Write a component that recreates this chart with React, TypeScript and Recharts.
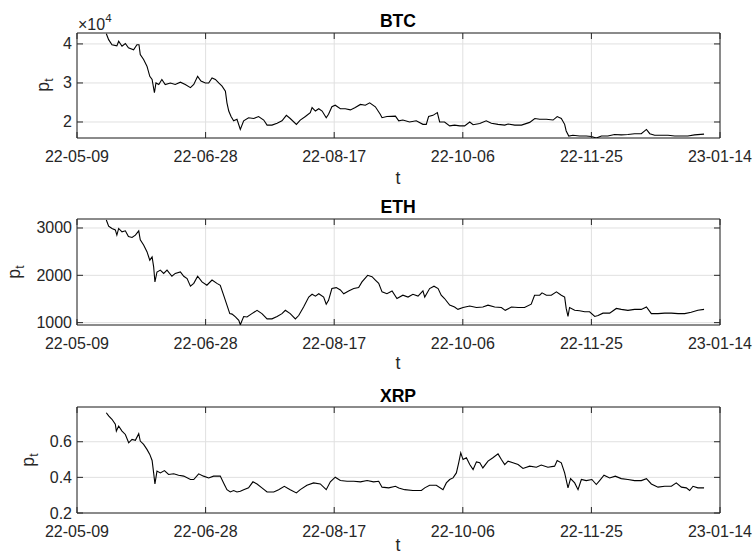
import React from "react";
import { LineChart, Line, XAxis, YAxis, CartesianGrid, ReferenceArea } from "recharts";

// x axis: days since 22-05-09, ticks every 50 days
const tickDays = [0, 50, 100, 150, 200, 250];
const tickLabels = ["22-05-09", "22-06-28", "22-08-17", "22-10-06", "22-11-25", "23-01-14"];

const btcDays = [
  11.4, 12.3, 13.6, 15.5, 16.2, 17.5, 18.8, 20.0, 22.0, 23.3, 24.1, 24.6, 25.9, 27.2, 28.3, 29.2, 30.1, 30.7,
  31.8, 33.0, 34.3, 36.3, 38.2, 40.2, 42.1, 44.1, 45.4, 46.9, 48.2, 49.9, 51.2, 52.5, 53.8, 55.1, 56.4, 57.7,
  58.3, 59.0, 59.9, 60.9, 62.2, 63.5, 64.8, 66.7, 68.7, 70.6, 72.6, 73.9, 75.8, 77.8, 79.7, 81.4, 82.9, 85.3,
  86.8, 88.8, 90.7, 91.4, 92.7, 94.0, 95.3, 96.9, 97.8, 99.1, 100.4, 102.4, 104.3, 106.3, 108.2, 110.2, 112.1,
  113.8, 116.0, 117.9, 118.6, 120.5, 123.8, 125.1, 126.7, 129.3, 131.9, 134.5, 135.8, 136.7, 138.4, 140.1,
  141.0, 142.9, 144.9, 146.8, 148.8, 150.7, 152.7, 154.0, 156.6, 159.1, 161.1, 163.7, 166.3, 167.6, 170.2,
  172.8, 176.0, 178.0, 179.9, 182.5, 185.1, 186.7, 188.3, 189.6, 190.2, 191.2, 192.8, 195.4, 198.0, 200.0,
  201.9, 203.9, 206.4, 209.0, 211.6, 214.2, 216.8, 219.4, 221.4, 222.7, 224.6, 227.2, 229.8, 232.4, 235.0,
  237.5, 240.1, 243.8,
];
const btcPrices = [
  42600, 41100, 39800, 39500, 40700, 39400, 40100, 39000, 38500, 39800, 39800, 37300, 36000, 34300, 31700, 30900,
  27500, 30000, 29600, 30900, 29600, 30000, 29600, 30200, 29600, 28800, 29600, 31700, 30500, 30000, 30000, 31300,
  30900, 30000, 29200, 27900, 24900, 22800, 21400, 20300, 20700, 18100, 20300, 21100, 20900, 21400, 20500, 19200,
  19200, 19700, 20300, 21700, 20900, 19400, 20500, 21400, 22400, 23700, 22800, 23400, 22800, 21100, 22000, 23900,
  24300, 23400, 23400, 23100, 23700, 24500, 24300, 24900, 23900, 22000, 21100, 21400, 21500, 20300, 20500, 20000,
  20300, 19400, 19400, 21400, 21700, 22400, 20000, 20000, 19000, 19200, 19000, 19000, 20000, 19300, 19600, 20300,
  19700, 19400, 19200, 19500, 19200, 19200, 19900, 20900, 20700, 20700, 20500, 21400, 20900, 19400, 17700, 16400,
  16600, 16400, 16400, 16300, 15900, 16400, 16400, 16800, 16700, 16800, 17000, 17000, 18100, 17000, 16600, 16600,
  16600, 16400, 16400, 16400, 16700, 16900,
];

const ethDays = [
  11.4, 12.3, 13.6, 14.9, 15.5, 16.2, 17.5, 18.8, 20.0, 21.4, 22.7, 24.0, 24.6, 25.9, 27.2, 28.3, 29.2, 29.8,
  30.3, 31.1, 32.4, 33.7, 35.0, 36.9, 38.2, 40.2, 41.5, 42.8, 44.1, 45.4, 46.9, 48.6, 50.5, 52.5, 54.4, 55.7,
  57.0, 58.3, 59.4, 60.3, 61.6, 62.9, 63.5, 64.8, 66.1, 68.0, 70.0, 71.9, 73.9, 75.8, 77.8, 79.7, 81.0, 82.9,
  84.9, 86.2, 88.1, 90.1, 91.4, 92.7, 94.0, 95.9, 96.9, 97.8, 99.1, 100.8, 102.4, 103.7, 105.6, 107.6, 109.5,
  110.8, 113.0, 114.7, 116.0, 117.3, 118.6, 120.5, 122.5, 124.4, 126.7, 128.7, 130.6, 132.6, 134.5, 135.2,
  137.1, 138.8, 140.4, 141.6, 142.9, 144.9, 146.8, 148.1, 150.1, 152.7, 155.3, 157.8, 159.8, 162.4, 165.0,
  166.5, 168.9, 171.5, 174.0, 176.6, 177.9, 179.9, 180.8, 182.5, 184.4, 186.4, 188.3, 189.6, 190.2, 190.9,
  191.5, 193.5, 195.4, 197.4, 199.3, 201.3, 202.6, 204.5, 207.1, 209.7, 211.6, 214.2, 216.8, 219.4, 221.4,
  223.3, 225.9, 228.5, 231.1, 233.7, 236.3, 238.8, 241.4, 243.8,
];
const ethPrices = [
  3170, 3040, 2990, 2960, 2850, 2990, 2920, 2940, 2820, 2800, 2850, 2940, 2750, 2640, 2500, 2320, 2390, 2180,
  1860, 2070, 2110, 2040, 2110, 1980, 2040, 2070, 1980, 1930, 1770, 1830, 1980, 1860, 1790, 1900, 1830, 1790,
  1580, 1370, 1190, 1180, 1120, 1050, 955, 1130, 1120, 1190, 1260, 1190, 1080, 1080, 1130, 1190, 1260, 1190,
  1080, 1150, 1330, 1540, 1600, 1560, 1610, 1540, 1390, 1470, 1720, 1740, 1690, 1610, 1670, 1720, 1740,
  1860, 2000, 1970, 1900, 1830, 1650, 1610, 1670, 1510, 1580, 1540, 1600, 1560, 1670, 1540,
  1720, 1770, 1720, 1580, 1510, 1370, 1330, 1280, 1320, 1350, 1320, 1330, 1370, 1330, 1320,
  1260, 1330, 1320, 1320, 1390, 1580, 1580, 1630, 1580, 1580, 1650, 1580, 1540, 1300, 1130,
  1320, 1260, 1250, 1230, 1230, 1130, 1150, 1200, 1200, 1300, 1280, 1260, 1280, 1280, 1330,
  1190, 1190, 1200, 1200, 1190, 1190, 1220, 1260, 1280,
];

const xrpDays = [
  11.4, 12.3, 13.6, 14.9, 15.3, 16.2, 17.5, 18.8, 20.1, 21.4, 22.7, 24.0, 24.6, 25.9, 27.2, 28.3, 29.2, 29.8,
  30.3, 31.1, 32.4, 34.0, 35.6, 37.6, 39.5, 41.5, 44.1, 45.4, 47.3, 49.2, 51.2, 53.1, 55.7, 57.0, 58.3, 59.6,
  60.9, 62.2, 63.5, 64.8, 66.7, 68.4, 70.0, 71.9, 73.9, 76.5, 78.4, 80.6, 82.9, 85.3, 86.8, 89.4, 92.0, 94.6,
  96.9, 98.5, 100.4, 102.4, 105.0, 107.6, 110.2, 112.8, 115.3, 117.3, 118.6, 121.2, 123.8, 125.1, 127.4, 130.6,
  133.9, 135.2, 137.1, 139.7, 142.3, 143.6, 144.9, 146.2, 147.5, 148.4, 149.2, 150.1, 151.4, 152.7, 154.0,
  155.3, 156.6, 157.8, 159.8, 161.7, 163.7, 165.0, 166.3, 167.6, 169.5, 171.5, 173.4, 176.0, 178.6, 180.5,
  183.1, 185.7, 186.7, 188.3, 189.6, 190.9, 191.9, 193.5, 194.8, 196.1, 198.0, 200.2, 201.9, 203.2, 204.9,
  207.1, 209.3, 211.6, 214.2, 216.8, 219.4, 221.4, 223.3, 225.9, 228.5, 231.1, 233.0, 235.0, 236.9, 238.2,
  239.5, 241.4, 243.8,
];
const xrpPrices = [
  0.763, 0.745, 0.726, 0.698, 0.66, 0.688, 0.66, 0.641, 0.594, 0.613, 0.608, 0.645, 0.604, 0.585, 0.557, 0.529,
  0.495, 0.425, 0.363, 0.435, 0.425, 0.438, 0.416, 0.42, 0.412, 0.407, 0.388, 0.388, 0.42, 0.407, 0.397, 0.407,
  0.407, 0.369, 0.331, 0.318, 0.326, 0.318, 0.322, 0.331, 0.341, 0.375, 0.363, 0.341, 0.318, 0.318, 0.331, 0.35,
  0.331, 0.313, 0.331, 0.356, 0.369, 0.363, 0.331, 0.375, 0.401, 0.382, 0.378, 0.378, 0.375, 0.382, 0.375, 0.378,
  0.345, 0.341, 0.35, 0.34, 0.331, 0.326, 0.326, 0.341, 0.356, 0.356, 0.331, 0.369, 0.388, 0.397, 0.425, 0.482,
  0.538, 0.5, 0.51, 0.472, 0.444, 0.487, 0.482, 0.453, 0.491, 0.51, 0.532, 0.5, 0.472, 0.491, 0.482, 0.472,
  0.45, 0.463, 0.457, 0.469, 0.457, 0.463, 0.495, 0.482, 0.425, 0.341, 0.393, 0.369, 0.331, 0.388, 0.382, 0.388,
  0.36, 0.382, 0.412, 0.397, 0.407, 0.393, 0.388, 0.382, 0.382, 0.393, 0.363, 0.345, 0.35, 0.35, 0.369, 0.345,
  0.341, 0.326, 0.35, 0.341, 0.341,
];

const FONT = '"Liberation Sans", Arial, Helvetica, sans-serif';
const INK = "#262626";
const PLOT_W = 643;

const XTick = ({ x, y, payload, plotH }: any) => {
  const i = tickDays.indexOf(payload.value);
  return (
    <g>
      <line x1={x} x2={x} y1={y} y2={y - 6} stroke={INK} />
      <line x1={x} x2={x} y1={y - plotH} y2={y - plotH + 6} stroke={INK} />
      <text x={x} y={y + 24} textAnchor="middle" fontSize={16} fill={INK} fontFamily={FONT}>
        {tickLabels[i]}
      </text>
    </g>
  );
};

const YTick = ({ x, y, payload, fmt }: any) => (
  <g>
    <line x1={x} x2={x + 6} y1={y} y2={y} stroke={INK} />
    <line x1={x + PLOT_W} x2={x + PLOT_W - 6} y1={y} y2={y} stroke={INK} />
    <text x={x - 5} y={y + 5.5} textAnchor="end" fontSize={16} fill={INK} fontFamily={FONT}>
      {fmt(payload.value)}
    </text>
  </g>
);

type PanelProps = {
  days: number[];
  prices: number[];
  domain: [number, number];
  ticks: number[];
  fmt: (v: number) => string;
  top: number;
  plotH: number;
};

const Panel = ({ days, prices, domain, ticks, fmt, top, plotH }: PanelProps) => {
  const data = days.map((d, i) => ({ d, p: prices[i] }));
  return (
    <div style={{ position: "absolute", left: 0, top: top - 10 }}>
      <LineChart width={756} height={plotH + 40} data={data} margin={{ top: 10, right: 36, bottom: 0, left: 37 }}>
        <CartesianGrid stroke="#e0e0e0" />
        <XAxis
          type="number"
          dataKey="d"
          domain={[0, 250]}
          ticks={tickDays}
          interval={0}
          height={30}
          tickSize={0}
          tickMargin={0}
          axisLine={false}
          allowDataOverflow
          tick={(props: any) => <XTick {...props} plotH={plotH} />}
        />
        <YAxis
          type="number"
          domain={domain}
          ticks={ticks}
          interval={0}
          width={40}
          tickSize={0}
          tickMargin={0}
          axisLine={false}
          allowDataOverflow
          tick={(props: any) => <YTick {...props} fmt={fmt} />}
        />
        <Line type="linear" dataKey="p" stroke="#000" strokeWidth={1.1} dot={false} isAnimationActive={false} />
        <ReferenceArea x1={0} x2={250} y1={domain[0]} y2={domain[1]} fill="none" stroke={INK} strokeWidth={1} />
      </LineChart>
    </div>
  );
};

const YLabel = ({ x, y }: { x: number; y: number }) => (
  <text transform={`translate(${x},${y}) rotate(-90)`} textAnchor="middle" fontSize={17.6} fill={INK} fontFamily={FONT}>
    p
    <tspan dy={4} fontSize={12.5}>t</tspan>
  </text>
);

export default function App() {
  return (
    <div style={{ position: "absolute", left: 0, top: 0, width: 756, height: 557, background: "#fff", fontFamily: FONT }}>
      <Panel days={btcDays} prices={btcPrices} domain={[15900, 42800]} ticks={[20000, 30000, 40000]} fmt={(v) => String(v / 10000)} top={33} plotH={105} />
      <Panel days={ethDays} prices={ethPrices} domain={[950, 3190]} ticks={[1000, 2000, 3000]} fmt={(v) => String(v)} top={219} plotH={106} />
      <Panel days={xrpDays} prices={xrpPrices} domain={[0.2, 0.795]} ticks={[0.2, 0.4, 0.6]} fmt={(v) => v.toFixed(1)} top={407} plotH={106} />
      <svg width={756} height={557} style={{ position: "absolute", left: 0, top: 0, pointerEvents: "none" }}>
        <g fontFamily={FONT} fill={INK}>
          <text x={398} y={27} textAnchor="middle" fontSize={17.6} fontWeight="bold" fill="#000">BTC</text>
          <text x={398} y={213} textAnchor="middle" fontSize={17.6} fontWeight="bold" fill="#000">ETH</text>
          <text x={398} y={401.5} textAnchor="middle" fontSize={17.6} fontWeight="bold" fill="#000">XRP</text>
          <text x={78} y={30} fontSize={16}>
            ×10<tspan dy={-8} fontSize={11.5}>4</tspan>
          </text>
          <YLabel x={49} y={85} />
          <YLabel x={20} y={272} />
          <YLabel x={34} y={460} />
          <text x={398} y={184} textAnchor="middle" fontSize={17.6}>t</text>
          <text x={398} y={369} textAnchor="middle" fontSize={17.6}>t</text>
          <text x={398} y={551} textAnchor="middle" fontSize={17.6}>t</text>
        </g>
      </svg>
    </div>
  );
}
